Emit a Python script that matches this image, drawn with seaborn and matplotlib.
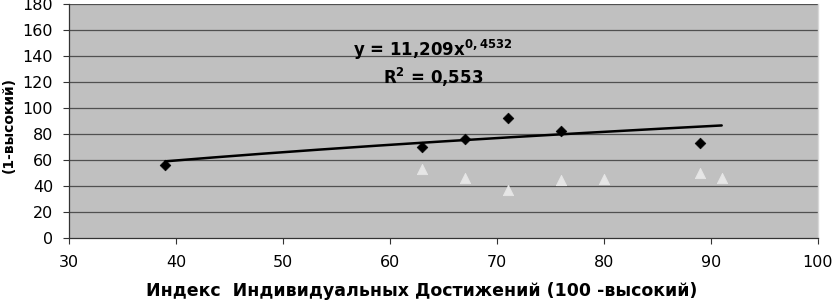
import numpy as np
import pandas as pd
import matplotlib
matplotlib.use("Agg")
import matplotlib.pyplot as plt
import seaborn as sns

# Data
x_diamond = [39, 63, 67, 71, 76, 89]
y_diamond = [56, 70, 76, 92.5, 82.5, 73]
x_triangle = [63, 67, 71, 76, 80, 89, 91]
y_triangle = [53, 46.5, 37, 44.5, 45.5, 50, 46.5]
# power trendline coefficients shown on chart: y = a * x^b
trend_a = 11.209
trend_b = 0.4532
trend_x_range = [39, 91]
x_ticks = [30, 40, 50, 60, 70, 80, 90, 100]
y_ticks = [0, 20, 40, 60, 80, 100, 120, 140, 160, 180]
eq_text = "y = 11,209x$^{0,4532}$"
r2_text = "R$^{2}$ = 0,553"
x_label = "Индекс  Индивидуальных Достижений (100 -высокий)"
y_label = "(1-высокий)"

sns.set_style("ticks")
plt.rcParams['font.family'] = ['DejaVu Sans']
plt.rcParams['text.color'] = 'black'
plt.rcParams['mathtext.fontset'] = 'custom'
plt.rcParams['mathtext.rm'] = 'DejaVu Sans:bold'
plt.rcParams['mathtext.it'] = 'DejaVu Sans:bold'
plt.rcParams['mathtext.bf'] = 'DejaVu Sans:bold'

fig = plt.figure(figsize=(8.34, 3.0), dpi=100)
ax = fig.add_axes([69/834, 62/300, (818-69)/834, (238-4)/300])
ax.set_facecolor("#c0c0c0")

df_d = pd.DataFrame({"x": x_diamond, "y": y_diamond})
df_t = pd.DataFrame({"x": x_triangle, "y": y_triangle})
tx = np.linspace(trend_x_range[0], trend_x_range[1], 200)
df_tr = pd.DataFrame({"x": tx, "y": trend_a * tx ** trend_b})

ax.set_axisbelow(True)
for yv in y_ticks[1:]:
    ax.axhline(yv, color="#505050", lw=0.9, zorder=0)

sns.lineplot(data=df_tr, x="x", y="y", ax=ax, color="black", lw=1.8, zorder=3)
sns.scatterplot(data=df_d, x="x", y="y", ax=ax, marker="D", s=30, color="black",
                edgecolor="black", zorder=4)
sns.scatterplot(data=df_t, x="x", y="y", ax=ax, marker="^", s=55, color="#e6e6e6",
                edgecolor="#e6e6e6", zorder=4)

ax.set_xlim(30, 100)
ax.set_ylim(0, 180)
ax.set_xticks(x_ticks)
ax.set_yticks(y_ticks)
ax.tick_params(axis="both", labelsize=11.5, length=4.5, width=0.8, color="#333333",
               labelcolor="black")
ax.tick_params(axis="x", pad=8)
ax.tick_params(axis="y", pad=7)
ax.spines["top"].set_visible(False)
ax.spines["right"].set_color("#d8d8d8")
ax.spines["right"].set_linewidth(1)
ax.spines["left"].set_color("#333333")
ax.spines["bottom"].set_color("#333333")
ax.spines["left"].set_linewidth(0.9)
ax.spines["bottom"].set_linewidth(0.9)

ax.set_xlabel("")
ax.set_ylabel("")
fig.text(422/834, 1 - 291/300, x_label, ha="center", va="center",
         fontsize=12.5, fontweight="bold", color="black")
fig.text(9/834, 1 - 125/300, y_label, ha="center", va="center", rotation=90,
         fontsize=10, fontweight="bold", color="black")

fig.text(433/834, 1 - 50/300, eq_text, ha="center", va="center",
         fontsize=12, fontweight="bold", color="black")
fig.text(433/834, 1 - 77/300, r2_text, ha="center", va="center",
         fontsize=12, fontweight="bold", color="black")

fig.savefig("out.png", dpi=100, facecolor="white")
